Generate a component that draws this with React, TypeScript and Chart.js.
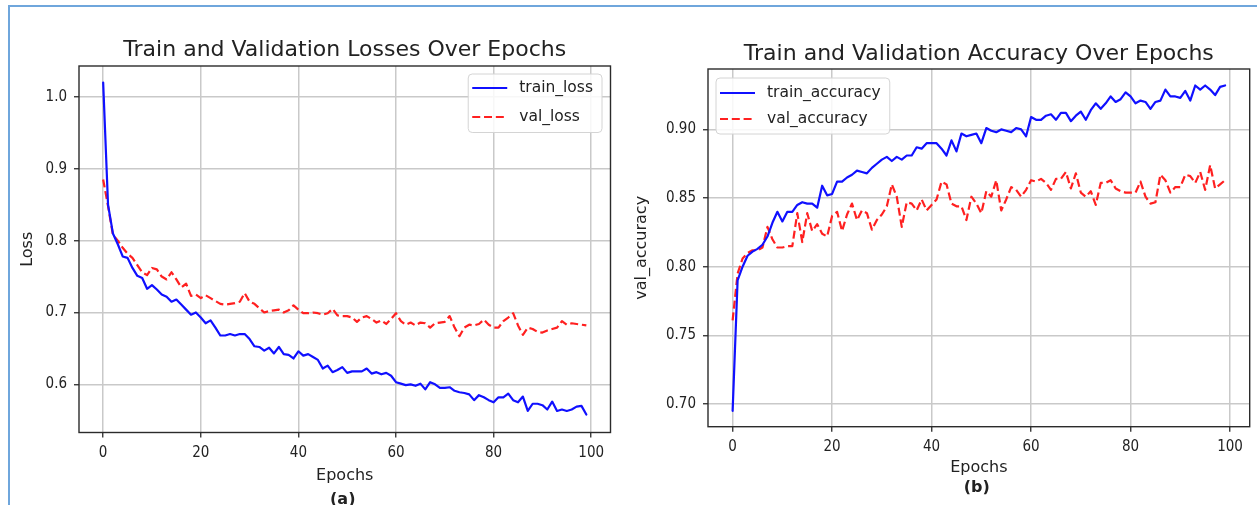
import React, { useEffect, useRef } from 'react';
import { Chart, registerables } from 'chart.js';

Chart.register(...registerables);

// ---------- data ----------
const EPOCHS: number[] = Array.from({ length: 100 }, (_, i) => i);

const TRAIN_LOSS = [
  1.020, 0.850, 0.810, 0.795, 0.778, 0.776, 0.762, 0.751, 0.748, 0.733,
  0.738, 0.732, 0.725, 0.722, 0.715, 0.718, 0.711, 0.704, 0.697, 0.700,
  0.693, 0.685, 0.689, 0.679, 0.668, 0.668, 0.670, 0.668, 0.670, 0.670,
  0.663, 0.653, 0.652, 0.647, 0.651, 0.643, 0.652, 0.642, 0.641, 0.636,
  0.646, 0.640, 0.642, 0.638, 0.634, 0.622, 0.626, 0.617, 0.620, 0.624,
  0.616, 0.618, 0.618, 0.618, 0.622, 0.615, 0.617, 0.614, 0.616, 0.612,
  0.603, 0.601, 0.599, 0.600, 0.598, 0.601, 0.593, 0.603, 0.600, 0.595,
  0.595, 0.596, 0.591, 0.589, 0.588, 0.586, 0.578, 0.585, 0.582, 0.578,
  0.575, 0.582, 0.582, 0.587, 0.578, 0.575, 0.583, 0.563, 0.573, 0.573,
  0.571, 0.565, 0.576, 0.563, 0.565, 0.563, 0.565, 0.569, 0.570, 0.558,
];

const VAL_LOSS = [
  0.885, 0.848, 0.808, 0.800, 0.790, 0.782, 0.776, 0.766, 0.756, 0.752,
  0.762, 0.760, 0.750, 0.746, 0.756, 0.746, 0.735, 0.740, 0.723, 0.725,
  0.720, 0.724, 0.720, 0.716, 0.712, 0.711, 0.712, 0.713, 0.715, 0.727,
  0.715, 0.712, 0.706, 0.700, 0.702, 0.703, 0.704, 0.700, 0.703, 0.710,
  0.704, 0.699, 0.699, 0.700, 0.699, 0.697, 0.699, 0.705, 0.696, 0.695,
  0.695, 0.693, 0.687, 0.693, 0.695, 0.691, 0.686, 0.689, 0.684, 0.691,
  0.699, 0.688, 0.683, 0.686, 0.682, 0.686, 0.685, 0.679, 0.685, 0.686,
  0.687, 0.695, 0.679, 0.667, 0.679, 0.683, 0.682, 0.684, 0.690, 0.683,
  0.679, 0.679, 0.688, 0.693, 0.699, 0.682, 0.669, 0.679, 0.677, 0.673,
  0.672, 0.675, 0.677, 0.679, 0.688, 0.683, 0.685, 0.684, 0.683, 0.682,
];

const TRAIN_ACC = [
  0.695, 0.790, 0.800, 0.808, 0.811, 0.813, 0.816, 0.822, 0.832, 0.840,
  0.833, 0.840, 0.840, 0.845, 0.847, 0.846, 0.846, 0.843, 0.859, 0.852,
  0.853, 0.862, 0.862, 0.865, 0.867, 0.870, 0.869, 0.868, 0.872, 0.875,
  0.878, 0.880, 0.877, 0.880, 0.878, 0.881, 0.881, 0.887, 0.886, 0.890,
  0.890, 0.890, 0.886, 0.881, 0.892, 0.884, 0.897, 0.895, 0.896, 0.897,
  0.890, 0.901, 0.899, 0.898, 0.900, 0.899, 0.898, 0.901, 0.900, 0.895,
  0.909, 0.907, 0.907, 0.910, 0.911, 0.907, 0.912, 0.912, 0.906, 0.910,
  0.913, 0.907, 0.914, 0.919, 0.915, 0.919, 0.924, 0.920, 0.922, 0.927,
  0.924, 0.919, 0.921, 0.920, 0.915, 0.920, 0.921, 0.929, 0.924, 0.924,
  0.923, 0.928, 0.921, 0.932, 0.929, 0.932, 0.929, 0.925, 0.931, 0.932,
];

const VAL_ACC = [
  0.761, 0.795, 0.806, 0.810, 0.812, 0.812, 0.814, 0.829, 0.820, 0.814,
  0.814, 0.815, 0.815, 0.839, 0.818, 0.839, 0.826, 0.831, 0.824, 0.822,
  0.837, 0.840, 0.826, 0.838, 0.846, 0.834, 0.841, 0.839, 0.827, 0.834,
  0.838, 0.844, 0.860, 0.851, 0.829, 0.847, 0.846, 0.841, 0.849, 0.841,
  0.845, 0.849, 0.862, 0.860, 0.846, 0.844, 0.844, 0.834, 0.851, 0.846,
  0.839, 0.855, 0.851, 0.863, 0.841, 0.849, 0.858, 0.856, 0.851, 0.856,
  0.863, 0.862, 0.864, 0.861, 0.856, 0.864, 0.864, 0.869, 0.857, 0.868,
  0.854, 0.851, 0.855, 0.845, 0.861, 0.861, 0.863, 0.857, 0.855, 0.854,
  0.854, 0.854, 0.862, 0.851, 0.846, 0.847, 0.867, 0.863, 0.854, 0.858,
  0.858, 0.867, 0.866, 0.861, 0.869, 0.856, 0.874, 0.857, 0.860, 0.863,
];

const X_TICKS = [0, 20, 40, 60, 80, 100];
const LOSS_TICKS = [0.6, 0.7, 0.8, 0.9, 1.0];
const ACC_TICKS = [0.7, 0.75, 0.8, 0.85, 0.9];
const X_LIMITS = [-4.95, 103.95];
const LOSS_LIMITS = [0.533, 1.043];
const ACC_LIMITS = [0.6835, 0.944];

// ---------- styling ----------
const W = 1257;
const H = 505;
const FONT = "'DejaVu Sans', sans-serif";
const TICK_FONT = "'DejaVu Sans Condensed', 'DejaVu Sans', sans-serif";
const TEXT = '#222222';
const GRID = '#c9c9c9';
const BLUE = '#1010ff';
const RED = '#ff2020';
const FRAME = '#6fa6dc';

type Spec = {
  x: number;
  width: number;
  area: { left: number; right: number; top: number; bottom: number };
  title: string;
  titleBaseline: number;
  panel: string;
  panelBaseline: number;
  yTitle: string;
  yTitleOffset: number;
  xTitleOffset: number;
  xTickPad: number;
  train: number[];
  val: number[];
  trainLabel: string;
  valLabel: string;
  yLimits: number[];
  yTicks: number[];
  decimals: number;
  legend: { side: 'left' | 'right'; inset: number; top: number; h: number; rows: number[] };
};

const LOSS_SPEC: Spec = {
  x: 0,
  width: 628,
  area: { left: 79, right: 610.5, top: 66, bottom: 432.5 },
  title: 'Train and Validation Losses Over Epochs',
  titleBaseline: 55.5,
  panel: '(a)',
  panelBaseline: 504,
  yTitle: 'Loss',
  yTitleOffset: 27.8,
  xTitleOffset: 29,
  xTickPad: 6.5,
  train: TRAIN_LOSS,
  val: VAL_LOSS,
  trainLabel: 'train_loss',
  valLabel: 'val_loss',
  yLimits: LOSS_LIMITS,
  yTicks: LOSS_TICKS,
  decimals: 1,
  legend: { side: 'right', inset: 8.5, top: 8, h: 58.5, rows: [14, 43] },
};

const ACC_SPEC: Spec = {
  x: 628,
  width: 629,
  area: { left: 80, right: 621.7, top: 69, bottom: 426.7 },
  title: 'Train and Validation Accuracy Over Epochs',
  titleBaseline: 60,
  panel: '(b)',
  panelBaseline: 492,
  yTitle: 'val_accuracy',
  yTitleOffset: 13.5,
  xTitleOffset: 36.7,
  xTickPad: 6,
  train: TRAIN_ACC,
  val: VAL_ACC,
  trainLabel: 'train_accuracy',
  valLabel: 'val_accuracy',
  yLimits: ACC_LIMITS,
  yTicks: ACC_TICKS,
  decimals: 2,
  legend: { side: 'left', inset: 8, top: 9, h: 56, rows: [15, 41] },
};

// ---------- decoration plugin (frame, legend, titles) ----------
const decorPlugin = {
  id: 'decor',
  afterDatasetsDraw(chart: any, _args: any, opts: any) {
    const { ctx, chartArea: a } = chart;
    ctx.save();
    // axes frame
    ctx.strokeStyle = '#2b2b2b';
    ctx.lineWidth = 1.4;
    ctx.strokeRect(a.left, a.top, a.right - a.left, a.bottom - a.top);

    // legend
    const lg = opts.legend;
    const datasets = chart.data.datasets;
    ctx.font = `15.5px ${FONT}`;
    const tw = Math.max(...datasets.map((d: any) => ctx.measureText(d.label).width));
    const w = 51 + tw + 9;
    const x0 = lg.side === 'right' ? a.right - lg.inset - w : a.left + lg.inset;
    const y0 = a.top + lg.top;
    ctx.beginPath();
    ctx.roundRect(x0, y0, w, lg.h, 4);
    ctx.fillStyle = 'rgba(255,255,255,0.85)';
    ctx.fill();
    ctx.strokeStyle = '#d4d4d4';
    ctx.lineWidth = 1;
    ctx.stroke();
    datasets.forEach((d: any, i: number) => {
      const yy = y0 + lg.rows[i];
      ctx.beginPath();
      ctx.setLineDash(d.borderDash || []);
      ctx.strokeStyle = d.borderColor;
      ctx.lineWidth = d.borderWidth;
      ctx.moveTo(x0 + 4, yy);
      ctx.lineTo(x0 + 39, yy);
      ctx.stroke();
      ctx.setLineDash([]);
      ctx.fillStyle = TEXT;
      ctx.textAlign = 'left';
      ctx.textBaseline = 'middle';
      ctx.fillText(d.label, x0 + 51, yy);
    });
    ctx.restore();
  },
  afterDraw(chart: any, _args: any, opts: any) {
    const { ctx, chartArea: a } = chart;
    const cx = (a.left + a.right) / 2;
    ctx.save();
    ctx.fillStyle = TEXT;
    ctx.textAlign = 'center';
    ctx.textBaseline = 'alphabetic';
    ctx.font = `22px ${FONT}`;
    ctx.fillText(opts.title, cx, opts.titleBaseline);
    ctx.font = `bold 16px ${FONT}`;
    ctx.fillText(opts.panel, cx - 2, opts.panelBaseline);
    ctx.restore();
  },
};

function buildConfig(s: Spec): any {
  const mk = (arr: number[]) => EPOCHS.map((e, i) => ({ x: e, y: arr[i] }));
  const tickFont = { family: TICK_FONT, size: 15 };
  const labelFont = { family: FONT, size: 16 };
  const grid = { color: GRID, lineWidth: 1.5, tickColor: '#2b2b2b', tickLength: 5, tickWidth: 1.3, drawTicks: true };
  return {
    type: 'line',
    data: {
      datasets: [
        {
          label: s.trainLabel,
          data: mk(s.train),
          borderColor: BLUE,
          borderWidth: 2.2,
          pointRadius: 0,
          tension: 0,
          fill: false,
          borderJoinStyle: 'round',
          borderCapStyle: 'round',
          borderDash: [],
        },
        {
          label: s.valLabel,
          data: mk(s.val),
          borderColor: RED,
          borderWidth: 2.2,
          pointRadius: 0,
          tension: 0,
          fill: false,
          borderJoinStyle: 'round',
          borderCapStyle: 'butt',
          borderDash: [8, 3.8],
        },
      ],
    },
    options: {
      responsive: false,
      animation: false,
      devicePixelRatio: 1,
      events: [],
      layout: { padding: { left: 0, right: s.width - s.area.right, top: s.area.top, bottom: 0 } },
      plugins: {
        legend: { display: false },
        title: { display: false },
        tooltip: { enabled: false },
        decor: {
          title: s.title,
          titleBaseline: s.titleBaseline,
          panel: s.panel,
          panelBaseline: s.panelBaseline,
          legend: s.legend,
        },
      },
      scales: {
        x: {
          type: 'linear',
          min: X_LIMITS[0],
          max: X_LIMITS[1],
          bounds: 'data',
          afterBuildTicks: (sc: any) => {
            sc.ticks = X_TICKS.map((v) => ({ value: v }));
          },
          afterFit: (sc: any) => {
            sc.height = H - s.area.bottom;
          },
          ticks: {
            font: tickFont,
            color: TEXT,
            padding: s.xTickPad,
            maxRotation: 0,
            autoSkip: false,
            callback: (v: any) => String(v),
          },
          grid,
          border: { display: false },
          title: {
            display: true,
            text: 'Epochs',
            font: labelFont,
            color: TEXT,
            padding: { top: 0, bottom: s.xTitleOffset - 9.6 },
          },
        },
        y: {
          type: 'linear',
          min: s.yLimits[0],
          max: s.yLimits[1],
          bounds: 'data',
          afterBuildTicks: (sc: any) => {
            sc.ticks = s.yTicks.map((v) => ({ value: v }));
          },
          afterFit: (sc: any) => {
            sc.width = s.area.left;
          },
          ticks: {
            font: tickFont,
            color: TEXT,
            padding: 7,
            autoSkip: false,
            callback: (v: any) => Number(v).toFixed(s.decimals),
          },
          grid,
          border: { display: false },
          title: {
            display: true,
            text: s.yTitle,
            font: labelFont,
            color: TEXT,
            padding: { top: s.yTitleOffset - 9.6, bottom: 0 },
          },
        },
      },
    },
    plugins: [decorPlugin],
  };
}

function Panel({ spec }: { spec: Spec }) {
  const ref = useRef<HTMLCanvasElement | null>(null);
  useEffect(() => {
    if (!ref.current) return;
    const chart = new Chart(ref.current, buildConfig(spec));
    return () => chart.destroy();
  }, [spec]);
  return (
    <canvas
      ref={ref}
      width={spec.width}
      height={H}
      style={{ position: 'absolute', left: spec.x, top: 0, width: spec.width, height: H, display: 'block' }}
    />
  );
}

export default function App() {
  return (
    <div
      style={{
        position: 'absolute',
        left: 0,
        top: 0,
        width: W,
        height: H,
        background: '#ffffff',
        overflow: 'hidden',
      }}
    >
      <div style={{ position: 'absolute', left: 8, top: 5, width: W - 8, height: 2, background: FRAME }} />
      <div style={{ position: 'absolute', left: 8, top: 5, width: 2, height: H - 5, background: FRAME }} />
      <Panel spec={LOSS_SPEC} />
      <Panel spec={ACC_SPEC} />
    </div>
  );
}
